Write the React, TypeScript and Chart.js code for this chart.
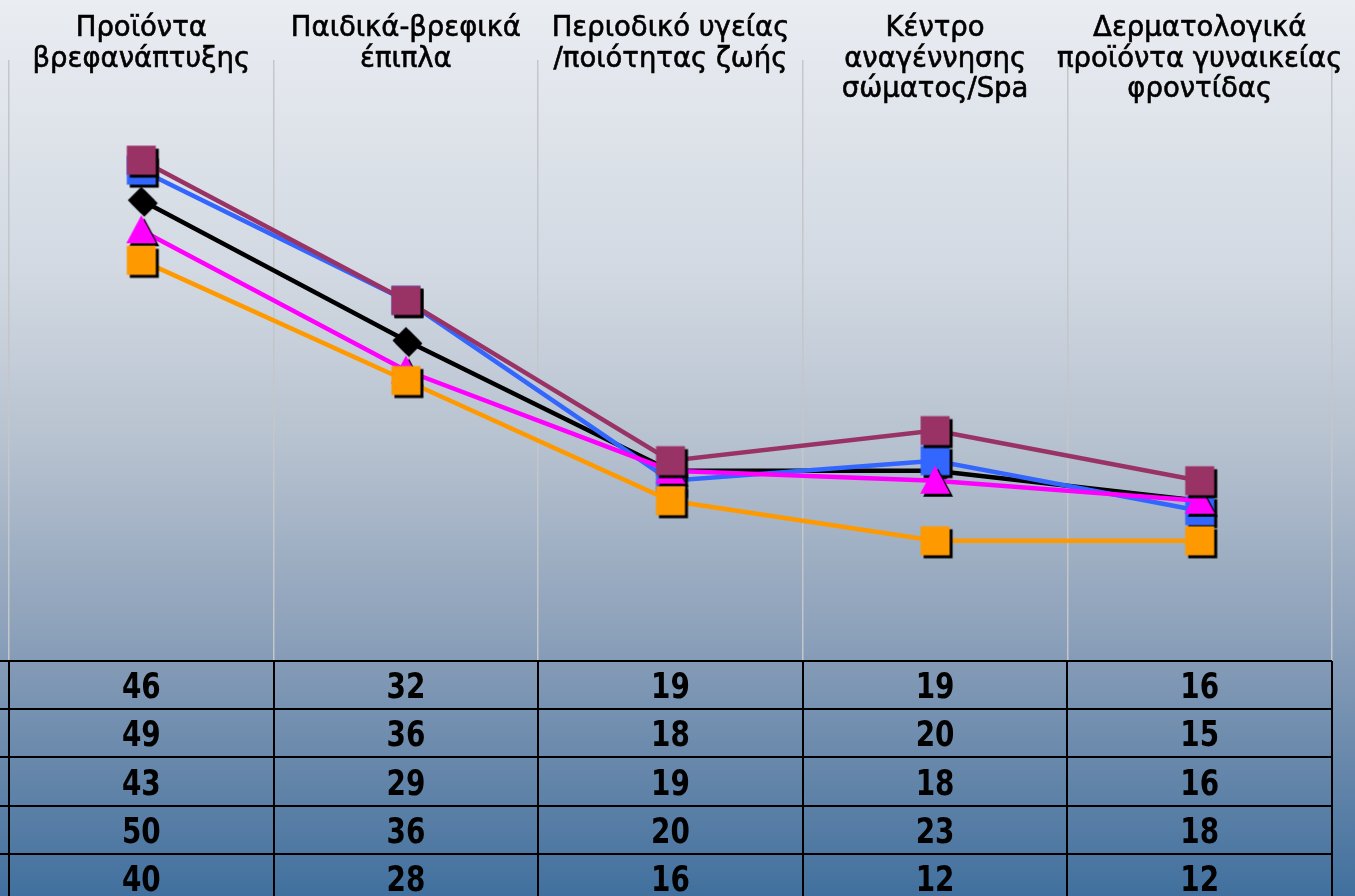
import React, { useEffect, useRef } from "react";
import { Chart, registerables } from "chart.js";

Chart.register(...registerables);

const categories: string[][] = [
  ["Προϊόντα", "βρεφανάπτυξης"],
  ["Παιδικά-βρεφικά", "έπιπλα"],
  ["Περιοδικό υγείας", "/ποιότητας ζωής"],
  ["Κέντρο", "αναγέννησης", "σώματος/Spa"],
  ["Δερματολογικά", "προϊόντα γυναικείας", "φροντίδας"],
];

const seriesNames = ["Σειρά 1", "Σειρά 2", "Σειρά 3", "Σειρά 4", "Σειρά 5"];
const seriesBlack = [46, 32, 19, 19, 16];
const seriesBlue = [49, 36, 18, 20, 15];
const seriesMagenta = [43, 29, 19, 18, 16];
const seriesMaroon = [50, 36, 20, 23, 18];
const seriesOrange = [40, 28, 16, 12, 12];

const yMin = 0;
const yMax = 60;

type Shape = "square" | "diamond" | "triangle";

function makeMarker(shape: Shape, color: string): HTMLCanvasElement {
  const W = 44;
  const c = document.createElement("canvas");
  c.width = W;
  c.height = W;
  const ctx = c.getContext("2d")!;
  const cx = W / 2;
  const cy = W / 2;
  const draw = (x: number, y: number, fill: string) => {
    ctx.fillStyle = fill;
    ctx.beginPath();
    if (shape === "square") {
      ctx.rect(x - 14.5, y - 14.5, 29, 29);
    } else if (shape === "diamond") {
      ctx.moveTo(x, y - 13.5);
      ctx.lineTo(x + 13.5, y);
      ctx.lineTo(x, y + 13.5);
      ctx.lineTo(x - 13.5, y);
      ctx.closePath();
    } else {
      ctx.moveTo(x, y - 15);
      ctx.lineTo(x + 15, y + 13);
      ctx.lineTo(x - 15, y + 13);
      ctx.closePath();
    }
    ctx.fill();
  };
  draw(cx + 3, cy + 3, "#000000");
  draw(cx, cy, color);
  return c;
}

export default function App() {
  const ref = useRef<HTMLCanvasElement | null>(null);

  useEffect(() => {
    document.body.style.margin = "0";
    const canvas = ref.current;
    if (!canvas) return;

    const series = [
      { name: seriesNames[0], data: seriesBlack, color: "#000000", shape: "diamond" as Shape },
      { name: seriesNames[1], data: seriesBlue, color: "#3366ff", shape: "square" as Shape },
      { name: seriesNames[2], data: seriesMagenta, color: "#ff00ff", shape: "triangle" as Shape },
      { name: seriesNames[3], data: seriesMaroon, color: "#993366", shape: "square" as Shape },
      { name: seriesNames[4], data: seriesOrange, color: "#ff9900", shape: "square" as Shape },
    ];

    const bgPlugin = {
      id: "bg",
      beforeDraw(chart: any) {
        const { ctx, width, height } = chart;
        const g = ctx.createLinearGradient(0, 0, 0, height);
        g.addColorStop(0, "#eaedf2");
        g.addColorStop(0.3, "#d2d9e2");
        g.addColorStop(0.5, "#b6c1cf");
        g.addColorStop(0.7, "#8ea2bb");
        g.addColorStop(0.85, "#6888ab");
        g.addColorStop(1, "#41709e");
        ctx.save();
        ctx.fillStyle = g;
        ctx.fillRect(0, 0, width, height);
        ctx.restore();
      },
    };

    const labelTablePlugin = {
      id: "labelsTable",
      afterDraw(chart: any) {
        const { ctx, chartArea } = chart;
        const xs = chart.scales.x;
        const labels = chart.data.labels as string[][];
        ctx.save();
        // category labels on top
        ctx.fillStyle = "#000000";
        ctx.strokeStyle = "#000000";
        ctx.lineWidth = 0.6;
        ctx.font = "27.5px 'DejaVu Sans', sans-serif";
        ctx.textAlign = "center";
        ctx.textBaseline = "alphabetic";
        labels.forEach((lines, i) => {
          const x = xs.getPixelForValue(i);
          lines.forEach((ln, j) => {
            ctx.fillText(ln, x, 36 + j * 30.5);
            ctx.strokeText(ln, x, 36 + j * 30.5);
          });
        });

        // data table
        const top = chartArea.bottom;
        const rowH = 48.2;
        const n = chart.data.datasets.length;
        const left = chartArea.left;
        const right = chartArea.right;
        ctx.strokeStyle = "#000000";
        ctx.lineWidth = 2;
        ctx.beginPath();
        for (let r = 0; r <= n; r++) {
          const y = Math.round(top + r * rowH);
          ctx.moveTo(0, y);
          ctx.lineTo(right, y);
        }
        const nCat = labels.length;
        const colW = (right - left) / nCat;
        for (let c = 0; c <= nCat; c++) {
          const x = Math.round(left + c * colW);
          ctx.moveTo(x, top);
          ctx.lineTo(x, top + n * rowH);
        }
        ctx.stroke();

        ctx.font = "bold 31px 'DejaVu Sans Condensed', 'DejaVu Sans', sans-serif";
        ctx.textBaseline = "middle";
        const sy = 1.12;
        chart.data.datasets.forEach((ds: any, r: number) => {
          ds.data.forEach((v: number, i: number) => {
            const x = xs.getPixelForValue(i);
            const y = top + r * rowH + rowH / 2 + 4;
            ctx.save();
            ctx.translate(x, y);
            ctx.scale(1, sy);
            ctx.fillText(String(v), 0, 0);
            ctx.restore();
          });
        });
        ctx.restore();
      },
    };

    const chart = new Chart(canvas, {
      type: "line",
      data: {
        labels: categories,
        datasets: series.map((s, i) => ({
          label: s.name,
          data: s.data,
          borderColor: s.color,
          backgroundColor: s.color,
          borderWidth: 4.5,
          pointStyle: makeMarker(s.shape, s.color),
          pointRadius: 14,
          tension: 0,
          fill: false,
          order: series.length - i,
        })),
      },
      options: {
        responsive: false,
        animation: false,
        events: [],
        layout: { autoPadding: false, padding: { left: 9, right: 23, top: 60, bottom: 235 } },
        plugins: {
          legend: { display: false },
          tooltip: { enabled: false },
        },
        scales: {
          x: {
            offset: true,
            grid: {
              display: true,
              offset: true,
              color: "#c4c6ca",
              lineWidth: 1.5,
              drawTicks: false,
            },
            border: { display: false },
            ticks: { display: false },
          },
          y: { display: false, min: yMin, max: yMax },
        },
      },
      plugins: [bgPlugin, labelTablePlugin],
    });

    return () => chart.destroy();
  }, []);

  return (
    <div style={{ width: 1355, height: 896, overflow: "hidden" }}>
      <canvas ref={ref} width={1355} height={896} style={{ display: "block" }} />
    </div>
  );
}
